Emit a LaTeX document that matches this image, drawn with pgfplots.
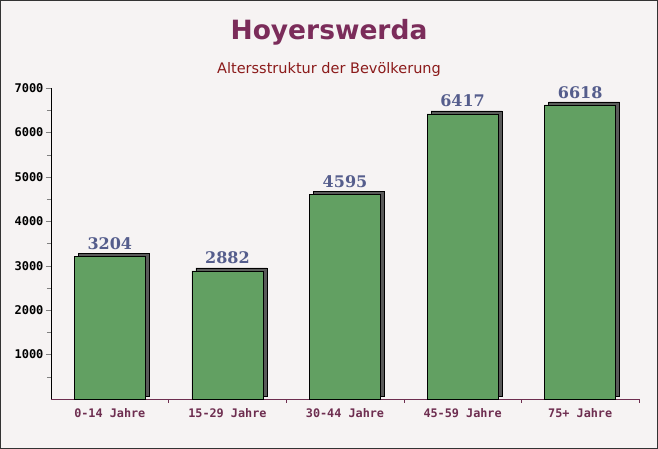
\documentclass[border=0pt]{standalone}
\usepackage{pgfplots}
\pgfplotsset{compat=1.18}
\usepackage{fontspec}
\setmainfont{DejaVu Sans}
\newfontfamily\monofont{DejaVu Sans Mono}
\newfontfamily\seriffont{DejaVu Serif}
\definecolor{bg}{HTML}{F6F3F3}
\definecolor{titlec}{HTML}{7B2C5A}
\definecolor{subc}{HTML}{8B1A1A}
\definecolor{valc}{HTML}{555D8C}
\definecolor{xlabc}{HTML}{6E2E50}
\definecolor{barc}{HTML}{62A062}
\definecolor{shadowc}{HTML}{5A5A5A}
\pgfplotstableread{
x val
0 3204
1 2882
2 4595
3 6417
4 6618
}\data
\begin{document}
\begin{tikzpicture}
\fill[bg] (0,0) rectangle (658pt,449pt);
\draw[black!80, line width=1pt] (0.5pt,0.5pt) rectangle (657.5pt,448.5pt);
\node[font=\fontsize{26.5}{30}\selectfont\bfseries, text=titlec] at (329pt,417pt) {Hoyerswerda};
\node[font=\fontsize{14.5}{17}\selectfont, text=subc] at (329pt,379pt) {Altersstruktur der Bevölkerung};
\begin{axis}[
  scale only axis, width=588pt, height=311pt,
  at={(51pt,50pt)}, anchor=south west,
  xmin=-0.5, xmax=4.5, ymin=0, ymax=7000,
  axis lines*=left,
  axis line style={line width=0.8pt},
  x axis line style={xlabc},
  y axis line style={black},
  xtick={0,1,2,3,4},
  xticklabels={0-14 Jahre,15-29 Jahre,30-44 Jahre,45-59 Jahre,75+ Jahre},
  major x tick style={draw=none},
  minor xtick={0.5,1.5,2.5,3.5,4.5},
  minor x tick style={xlabc, line width=0.6pt},
  ytick={1000,2000,...,7000},
  minor ytick={500,1500,...,6500},
  tick align=outside,
  major tick length=5pt, minor tick length=4pt,
  x tick label style={font=\monofont\bfseries\fontsize{11.8}{13}\selectfont, text=xlabc, yshift=-1pt},
  y tick label style={font=\monofont\bfseries\fontsize{12}{13}\selectfont, text=black, xshift=1pt},
  /pgf/number format/assume math mode=true,
  /pgf/number format/1000 sep={},
  scaled y ticks=false,
  ybar, bar width=71pt,
  nodes near coords,
  every node near coord/.append style={font=\seriffont\bfseries\fontsize{16}{18}\selectfont, text=valc, yshift=3pt},
  clip=false,
]
\addplot[draw=black, line width=0.8pt, fill=barc,
  preaction={fill=shadowc, transform canvas={shift={(4pt,3pt)}}}]
  table[x=x, y=val] {\data};
\end{axis}
\end{tikzpicture}
\end{document}
